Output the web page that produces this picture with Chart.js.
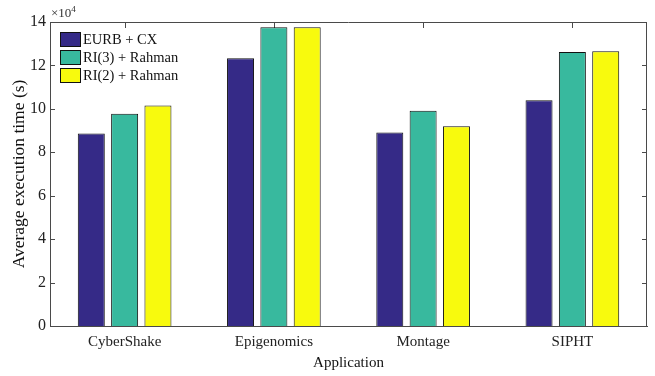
<!DOCTYPE html>
<html>
<head>
<meta charset="utf-8">
<script src="https://cdn.jsdelivr.net/npm/chart.js@4.4.1/dist/chart.umd.min.js"></script>
<style>
  html, body { margin: 0; padding: 0; background: #fff; }
  #wrap { width: 655px; height: 376px; position: relative; }
</style>
</head>
<body>
<div id="wrap"><canvas id="execChart"></canvas></div>
<script>
// Average execution time per application (seconds)
const categories = ['CyberShake', 'Epigenomics', 'Montage', 'SIPHT'];
const seriesLabels = ['EURB + CX', 'RI(3) + Rahman', 'RI(2) + Rahman'];
const eurbCx = [88600, 123300, 89100, 104000];
const ri3Rahman = [97800, 137600, 99100, 126200];
const ri2Rahman = [101500, 137600, 92000, 126500];
const yTicks = [0, 2, 4, 6, 8, 10, 12, 14];   // in units of 10^4
const yScaleExp = 4;

const colors = ['#352a87', '#38b99e', '#f8fa0d'];
const serif = "'Liberation Serif', 'Times New Roman', serif";
const axisColor = '#4a4a4a';

const seriesValues = [eurbCx, ri3Rahman, ri2Rahman];

// matlab-style box: inward ticks on all four sides, exponent label, inset legend
const matlabAxes = {
  id: 'matlabAxes',
  beforeDatasetsDraw(chart) {
    const { ctx, chartArea: a, scales: { x, y } } = chart;
    ctx.save();
    ctx.strokeStyle = axisColor;
    ctx.lineWidth = 1;
    ctx.beginPath();
    y.ticks.forEach(t => {
      const py = Math.round(y.getPixelForValue(t.value)) + 0.5;
      ctx.moveTo(a.left, py); ctx.lineTo(a.left + 5, py);
      ctx.moveTo(a.right, py); ctx.lineTo(a.right - 5, py);
    });
    categories.forEach((c, i) => {
      const px = Math.round(x.getPixelForValue(i)) + 0.5;
      ctx.moveTo(px, a.top); ctx.lineTo(px, a.top + 6);
      ctx.moveTo(px, a.bottom); ctx.lineTo(px, a.bottom - 6);
    });
    ctx.stroke();
    ctx.restore();
  },
  afterDraw(chart) {
    const { ctx, chartArea: a } = chart;
    ctx.save();
    // top and right edges of the box
    ctx.strokeStyle = axisColor;
    ctx.lineWidth = 1;
    ctx.beginPath();
    ctx.moveTo(a.left, a.top + 0.5); ctx.lineTo(a.right, a.top + 0.5);
    ctx.moveTo(a.right - 0.5, a.top); ctx.lineTo(a.right - 0.5, a.bottom);
    ctx.stroke();

    // exponent label above the y axis
    ctx.fillStyle = '#333';
    ctx.textBaseline = 'alphabetic';
    ctx.textAlign = 'left';
    ctx.font = '13px ' + serif;
    ctx.fillText('\u00d710', a.left + 1, a.top - 5);
    const w = ctx.measureText('\u00d710').width;
    ctx.font = '9px ' + serif;
    ctx.fillText(String(yScaleExp), a.left + 1 + w, a.top - 10);

    // legend inside the top-left corner
    ctx.font = '14.5px ' + serif;
    ctx.textBaseline = 'middle';
    chart.data.datasets.forEach((ds, i) => {
      const top = a.top + 10 + i * 18;
      ctx.fillStyle = ds.backgroundColor;
      ctx.fillRect(a.left + 10, top, 20, 14);
      ctx.strokeStyle = '#111';
      ctx.strokeRect(a.left + 10.5, top + 0.5, 20, 14);
      ctx.fillStyle = '#111';
      ctx.fillText(ds.label, a.left + 33, top + 8);
    });
    ctx.restore();
  }
};

new Chart(document.getElementById('execChart'), {
  type: 'bar',
  data: {
    labels: categories,
    datasets: seriesLabels.map((label, i) => ({
      label: label,
      data: seriesValues[i],
      backgroundColor: colors[i],
      borderColor: '#111',
      borderWidth: 1,
      categoryPercentage: 0.67,
      barPercentage: 0.81
    }))
  },
  options: {
    responsive: true,
    maintainAspectRatio: false,
    animation: false,
    layout: { padding: { top: 22, right: 8, left: 0, bottom: 0 } },
    plugins: {
      legend: { display: false },
      tooltip: { enabled: false }
    },
    scales: {
      x: {
        offset: true,
        grid: { display: false, drawTicks: false },
        border: { display: true, color: axisColor, width: 1 },
        ticks: { color: '#222', padding: 7, font: { family: serif, size: 15 } },
        title: {
          display: true,
          text: 'Application',
          color: '#111',
          font: { family: serif, size: 15 },
          padding: { top: 0, bottom: 4 }
        },
        afterFit(scale) { scale.height = 50; }
      },
      y: {
        min: 0,
        max: yTicks[yTicks.length - 1] * Math.pow(10, yScaleExp),
        afterBuildTicks(scale) {
          scale.ticks = yTicks.map(v => ({ value: v * Math.pow(10, yScaleExp) }));
        },
        grid: { display: false, drawTicks: false },
        border: { display: true, color: axisColor, width: 1 },
        ticks: {
          color: '#222',
          padding: 4,
          font: { family: serif, size: 16 },
          callback: v => String(v / Math.pow(10, yScaleExp))
        },
        title: {
          display: true,
          text: 'Average execution time (s)',
          color: '#111',
          font: { family: serif, size: 17.5 },
          padding: { top: 9, bottom: 0 }
        },
        afterFit(scale) { scale.width = 50; }
      }
    }
  },
  plugins: [matlabAxes]
});
</script>
</body>
</html>
